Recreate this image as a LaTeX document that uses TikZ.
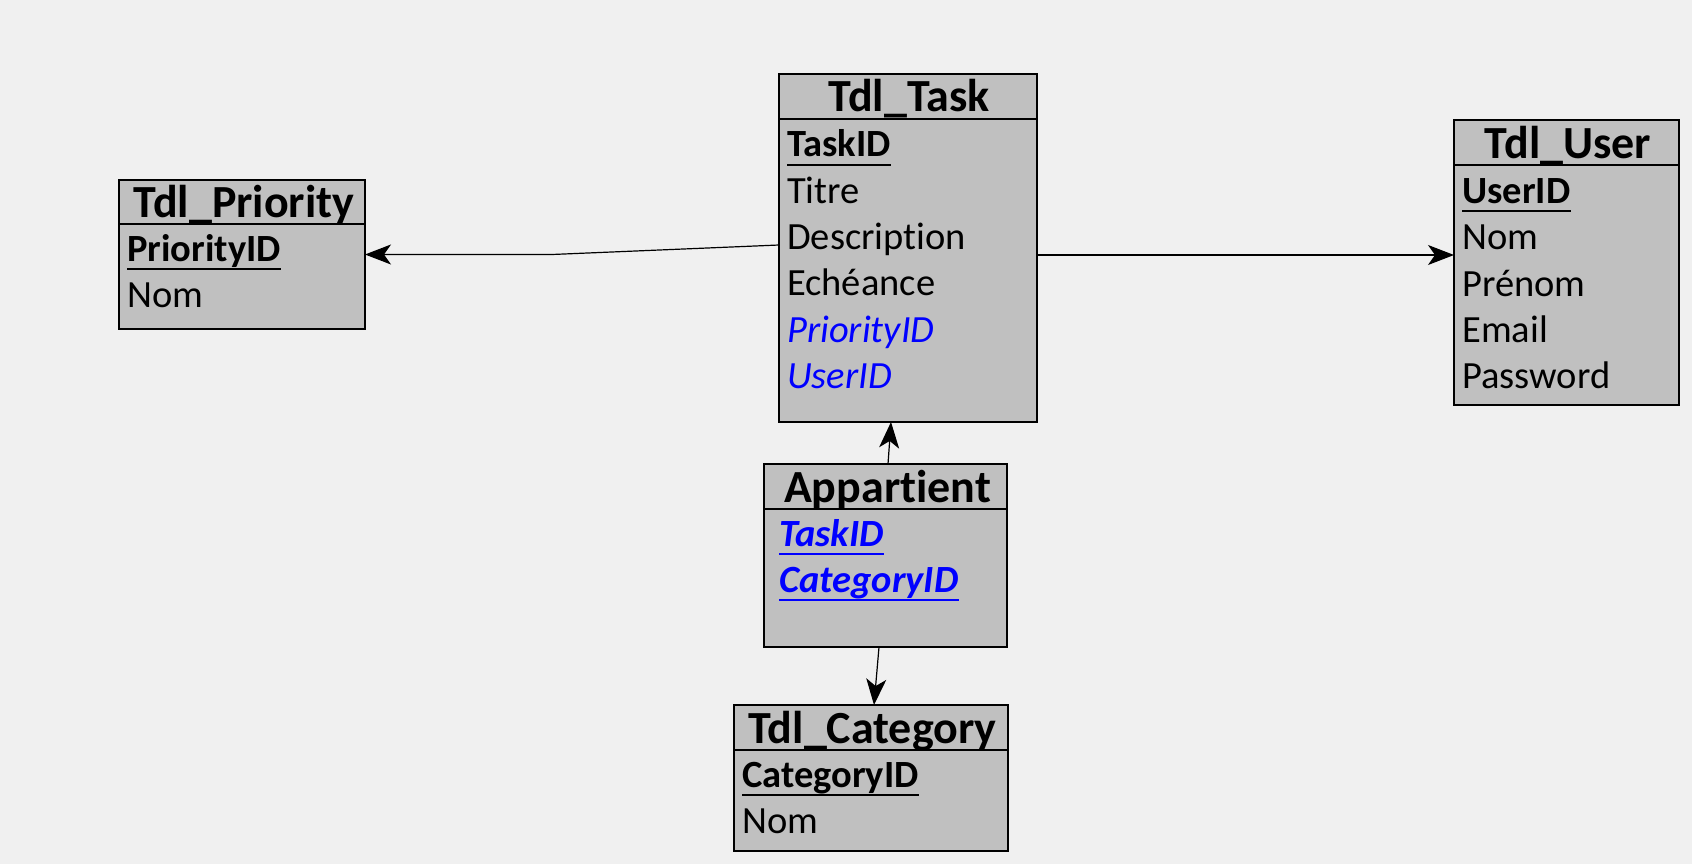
\documentclass[tikz,border=0pt]{standalone}
\usepackage{fontspec}
\setmainfont{Carlito}[Ligatures=NoCommon]
\usetikzlibrary{arrows.meta}
\definecolor{bg}{HTML}{F0F0F0}
\definecolor{boxfill}{HTML}{C0C0C0}
\definecolor{fkblue}{HTML}{0000FF}
\begin{document}
\begin{tikzpicture}[x=1pt,y=-1pt,
 tbl/.style={draw=black, line width=2pt, fill=boxfill, rectangle, inner sep=0pt, outer sep=0pt},
 title/.style={font=\fontsize{46}{50}\selectfont\bfseries, inner sep=0pt, anchor=base},
 fld/.style={font=\fontsize{38.5}{46}\selectfont, inner sep=0pt, anchor=base west},
 pk/.style={fld, font=\fontsize{38.5}{46}\selectfont\bfseries},
 fk/.style={fld, text=fkblue, font=\fontsize{38.5}{46}\selectfont\itshape},
 pfk/.style={fld, text=fkblue, font=\fontsize{38.5}{46}\selectfont\bfseries\itshape},
 sep/.style={line width=1.5pt},
 ul/.style={line width=2pt},
 ulb/.style={line width=2pt, draw=fkblue},
 conn/.style={line width=1.2pt, -{Stealth[length=26pt,width=20pt,inset=7pt]}}]

\fill[bg] (0,0) rectangle (1692,864);
\useasboundingbox (0,0) rectangle (1692,864);

% Tdl_Priority
\node[tbl, minimum width=246pt, minimum height=149pt] (priority) at (242,254.5) {};
\draw[sep] (priority.west |- 0,224) -- (priority.east |- 0,224);
\node[title] (priorityT) at (244,217) {Tdl\_Priority};
\node[pk] (priorityid) at (127,261) {PriorityID};
\draw[ul] ([yshift=-8pt]priorityid.base west) -- ([yshift=-8pt]priorityid.base east);
\node[fld] (prioritynom) at (127,307) {Nom};

% Tdl_Task
\node[tbl, minimum width=258pt, minimum height=348pt] (task) at (908,248) {};
\draw[sep] (task.west |- 0,119) -- (task.east |- 0,119);
\node[title] (taskT) at (909,112) {Tdl\_Task};
\node[pk] (taskid) at (787,157) {TaskID};
\draw[ul] ([yshift=-8pt]taskid.base west) -- ([yshift=-8pt]taskid.base east);
\node[fld] (titre) at (787,203) {Titre};
\node[fld] (desc) at (787,249) {Description};
\node[fld] (echeance) at (787,295) {Echéance};
\node[fk] (taskprio) at (787,342) {PriorityID};
\node[fk] (taskuser) at (787,388) {UserID};

% Tdl_User
\node[tbl, minimum width=225pt, minimum height=285pt] (user) at (1566.5,262.5) {};
\draw[sep] (user.west |- 0,165) -- (user.east |- 0,165);
\node[title] (userT) at (1568,158) {Tdl\_User};
\node[pk] (userid) at (1462,203) {UserID};
\draw[ul] ([yshift=-8pt]userid.base west) -- ([yshift=-8pt]userid.base east);
\node[fld] (usernom) at (1462,249) {Nom};
\node[fld] (prenom) at (1462,296) {Prénom};
\node[fld] (email) at (1462,342) {Email};
\node[fld] (password) at (1462,388) {Password};

% Appartient
\node[tbl, minimum width=243pt, minimum height=183pt] (app) at (885.5,555.5) {};
\draw[sep] (app.west |- 0,509) -- (app.east |- 0,509);
\node[title] (appT) at (887.5,502) {Appartient};
\node[pfk] (apptask) at (779,546) {TaskID};
\draw[ulb] ([yshift=-8pt]apptask.base west) -- ([yshift=-8pt]apptask.base east);
\node[pfk] (appcat) at (779,592) {CategoryID};
\draw[ulb] ([yshift=-8pt]appcat.base west) -- ([yshift=-8pt]appcat.base east);

% Tdl_Category
\node[tbl, minimum width=274pt, minimum height=146pt] (cat) at (871,778) {};
\draw[sep] (cat.west |- 0,750) -- (cat.east |- 0,750);
\node[title] (catT) at (872.5,743) {Tdl\_Category};
\node[pk] (catid) at (742,787) {CategoryID};
\draw[ul] ([yshift=-8pt]catid.base west) -- ([yshift=-8pt]catid.base east);
\node[fld] (catnom) at (742,833) {Nom};

% connectors
\draw[conn] ([yshift=3pt]task.west) -- (priority.east -| 552,0) -- (priority.east);
\draw[conn] ([yshift=-7pt]task.east) -- ([yshift=-7pt]task.east -| user.west);
\draw[conn] ([xshift=2.5pt]app.north) -- ([xshift=-17pt]task.south);
\draw[conn] ([xshift=-6.5pt]app.south) -- ([xshift=3pt]cat.north);
\end{tikzpicture}
\end{document}
